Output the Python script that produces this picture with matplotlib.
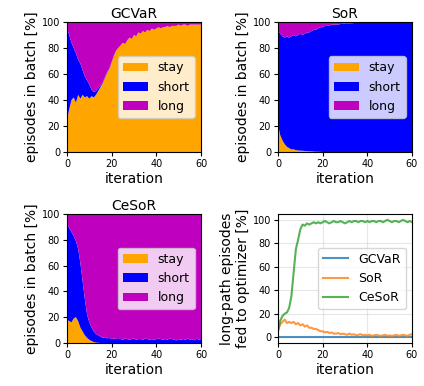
import numpy as np
import matplotlib
matplotlib.use("Agg")
import matplotlib.pyplot as plt

iters = np.arange(61)
labels = ["stay", "short", "long"]
colors = ["orange", "b", "m"]

# GCVaR batch composition [%]
gcvar_stay = [25, 33, 40, 42, 38, 44, 41, 44, 42, 43, 41, 43, 42, 44, 47, 50, 53, 57, 61, 64,
              69, 74, 78, 80, 82, 84, 83, 86, 88, 87, 90, 89, 92, 91, 93, 92, 94, 93, 95, 94,
              95, 96, 95, 96, 96, 97, 96, 97, 97, 97, 98, 97, 98, 98, 97, 98, 98, 98, 98, 98, 98]
gcvar_short = [70, 57, 44, 38, 38, 27, 27, 19, 16, 12, 11, 5, 4, 3, 2, 1, 1, 0.5, 0.5, 0.5,
               0.3, 0.3, 0.2, 0.2, 0, 0, 0, 0, 0, 0, 0, 0, 0, 0, 0, 0, 0, 0, 0, 0,
               0, 0, 0, 0, 0, 0, 0, 0, 0, 0, 0, 0, 0, 0, 0, 0, 0, 0, 0, 0, 0]

# SoR batch composition [%]
sor_stay = [21, 13, 9, 6, 4, 3, 2, 2, 1.5, 1.2, 1, 1, 0.8, 0.7, 0.5, 0.5, 0.3, 0.2, 0.2, 0.1,
            0, 0, 0, 0, 0, 0, 0, 0, 0, 0, 0, 0, 0, 0, 0, 0, 0, 0, 0, 0,
            0, 0, 0, 0, 0, 0, 0, 0, 0, 0, 0, 0, 0, 0, 0, 0, 0, 0, 0, 0, 0]
sor_long = [6, 9, 11, 12, 11, 12, 11, 10, 11, 10, 9, 10, 9, 8, 8, 7, 6, 6, 5, 4,
            4, 3, 3, 3, 2, 2, 2, 2, 1.5, 1.5, 1, 1, 1, 1, 0.8, 0.5, 0.8, 0.5, 0.5, 0.3,
            0.5, 0.3, 0.2, 0.3, 0.2, 0.2, 0.1, 0.2, 0.1, 0.1, 0, 0.1, 0, 0, 0.1, 0, 0, 0, 0, 0, 0]

# CeSoR batch composition [%]
cesor_stay = [18, 17, 16, 19, 20, 17, 12, 9, 6, 4, 2.5, 1.5, 0.8, 0.3, 0.2, 0, 0, 0, 0, 0,
              0, 0, 0, 0, 0, 0, 0, 0, 0, 0, 0, 0, 0, 0, 0, 0, 0, 0, 0, 0,
              0, 0, 0, 0, 0, 0, 0, 0, 0, 0, 0, 0, 0, 0, 0, 0, 0, 0, 0, 0, 0]
cesor_short = [75, 72, 70, 64, 59, 56, 50, 39, 28, 18, 13.5, 10.5, 8.2, 6.7, 5.8, 5, 4, 4.5, 3.5, 4,
               3, 3.5, 3, 4, 3, 2.5, 3.5, 3, 2.5, 3, 3.5, 2.5, 3, 3, 2.5, 3.5, 3, 2.5, 3, 2.5,
               3, 3.5, 3, 2.5, 3, 2.5, 3.5, 3, 2.5, 2, 3, 2.5, 3, 2.5, 3.5, 2.5, 3, 2, 3.5, 2.5, 3]

# long-path episodes fed to optimizer [%]
fed_gcvar = [0] * 61
fed_sor = [6, 11, 13, 15, 12, 13, 12, 13, 11, 12, 10, 11, 9, 10, 8, 8, 7, 7, 6, 5,
           5, 4, 4.5, 3.5, 4, 3, 3, 3.5, 2.5, 3, 2.5, 2, 3, 2, 2.5, 1.5, 2, 2.5, 1.5, 2,
           1.5, 2, 1, 1.5, 2, 1.5, 1, 1.5, 2, 1, 1.5, 1, 1.5, 2, 1, 1.5, 2, 1.5, 1, 2, 2.5]
fed_cesor = [5, 14, 18, 20, 21, 25, 35, 55, 75, 83, 92, 96, 95, 97, 96, 97, 98, 97, 98, 97,
             98, 99, 98, 97, 98, 99, 98, 98, 99, 98, 97, 98, 99, 98, 99, 99, 98, 99, 99, 98,
             99, 98, 99, 99, 98, 99, 99, 98, 99, 100, 99, 98, 99, 99, 98, 99, 100, 99, 98, 99, 98]


def composition(stay, short=None, long=None):
    stay = np.array(stay, dtype=float)
    if short is None:
        long = np.array(long, dtype=float)
        short = 100 - stay - long
    else:
        short = np.array(short, dtype=float)
        long = 100 - stay - short
    return stay, short, long


fig = plt.figure(figsize=(4.24, 3.86), dpi=100)
W, H = 424, 386
def px_axes(x0, y0, x1, y1):
    return fig.add_axes([x0 / W, 1 - y1 / H, (x1 - x0) / W, (y1 - y0) / H])

ax1 = px_axes(67, 22, 201, 152)
ax2 = px_axes(278, 22, 412, 152)
ax3 = px_axes(67, 214, 201, 343)
ax4 = px_axes(278, 214, 412, 343)

panels = [(ax1, "GCVaR", composition(gcvar_stay, short=gcvar_short)),
          (ax2, "SoR", composition(sor_stay, long=sor_long)),
          (ax3, "CeSoR", composition(cesor_stay, short=cesor_short))]

for ax, title, parts in panels:
    ax.stackplot(iters, *parts, labels=labels, colors=colors)
    ax.set_xlim(0, 60)
    ax.set_ylim(0, 100)
    ax.set_title(title, fontsize=10, pad=3)
    ax.set_xlabel("iteration", fontsize=10, labelpad=2)
    ax.set_ylabel("episodes in batch [%]", fontsize=10, labelpad=2)
    ax.tick_params(labelsize=7, length=3, pad=2)
    ax.set_xticks([0, 20, 40, 60])
    ax.legend(loc="center right", fontsize=9)

ax4.plot(iters, fed_gcvar, label="GCVaR", alpha=0.8)
ax4.plot(iters, fed_sor, label="SoR", alpha=0.8)
ax4.plot(iters, fed_cesor, label="CeSoR", alpha=0.8)
ax4.set_xlim(0, 60)
ax4.set_xticks([0, 20, 40, 60])
ax4.set_yticks([0, 20, 40, 60, 80, 100])
ax4.grid(True, alpha=0.3)
ax4.set_xlabel("iteration", fontsize=10, labelpad=2)
ax4.set_ylabel("long-path episodes\nfed to optimizer [%]", fontsize=10, labelpad=2)
ax4.tick_params(labelsize=7, length=3, pad=2)
ax4.legend(loc="center right", fontsize=9)

fig.savefig("out.png", dpi=100)
